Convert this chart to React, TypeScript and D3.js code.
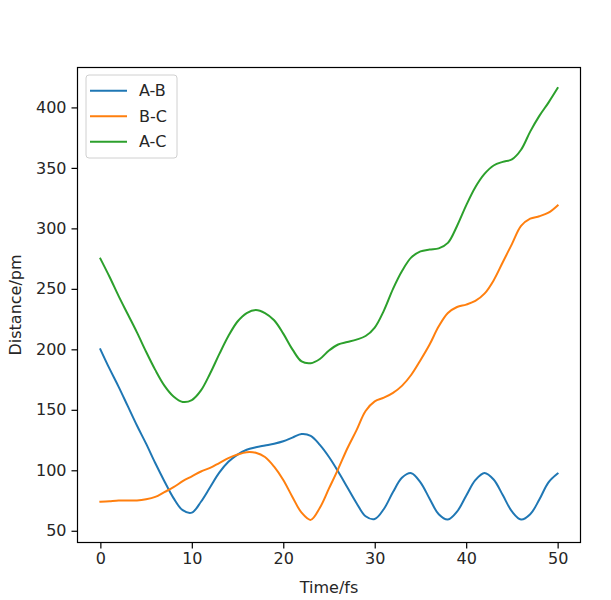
import React, { useEffect, useRef } from 'react';
import * as d3 from 'd3';

// time axis (fs), one sample per femtosecond
const times = d3.range(0, 51);

// A-B distance (pm)
const abValues = [
  200, 184, 169, 153, 137, 122, 106, 91, 77, 67,
  65, 74, 86, 98, 107, 113, 117, 119, 120.5, 122,
  124, 127, 130, 128.5, 121, 111, 99, 86, 73, 62,
  59.7, 68, 82, 94, 97.6, 90, 76.5, 63.6, 59.3, 65.8,
  79, 91.8, 97.8, 92.4, 79.5, 66, 59.3, 63.6, 75.8, 90,
  97.3
];

// B-C distance (pm)
const bcValues = [
  74, 74.5, 75, 75, 75, 76, 78, 82, 86, 91,
  95, 99, 102, 106, 110, 113, 115, 114.5, 111, 103,
  92, 78, 65, 59, 69, 85, 101, 118, 133, 149,
  157, 160, 164, 170, 179, 191, 204, 219, 230, 235,
  237, 240, 246, 257, 272, 287, 302, 308, 310, 313,
  319
];

// A-C distance (pm)
const acValues = [
  275, 260, 244, 229, 214, 198, 183, 170, 161, 156.5,
  158, 166, 180, 196, 211, 223, 230, 232.5, 230, 224,
  213, 200, 190, 188.5, 192, 199, 204, 206, 208, 211,
  218, 232, 250, 265, 276, 281, 282.5, 283.5, 288, 302,
  319, 334, 345, 352, 355, 357, 365, 380, 393, 404,
  416
];

const seriesNames = ['A-B', 'B-C', 'A-C'];
const seriesColors = ['#1f77b4', '#ff7f0e', '#2ca02c'];
const xTicks = [0, 10, 20, 30, 40, 50];
const yTicks = [50, 100, 150, 200, 250, 300, 350, 400];

const App: React.FC = () => {
  const svgRef = useRef<SVGSVGElement>(null);

  useEffect(() => {
    const width = 611;
    const height = 600;
    const margin = { top: 67.5, right: 30.5, bottom: 57.5, left: 77.5 };

    const svg = d3.select(svgRef.current);
    svg.selectAll('*').remove();
    svg.attr('width', width).attr('height', height);

    const font = '"DejaVu Sans", sans-serif';
    const textColor = '#262626';

    const x = d3.scaleLinear()
      .domain([-2.5, 52.5])
      .range([margin.left, width - margin.right]);

    const y = d3.scaleLinear()
      .domain([40.3, 433])
      .range([height - margin.bottom, margin.top]);

    const allSeries = [abValues, bcValues, acValues];

    const line = d3.line<number>()
      .x((_, i) => x(times[i]))
      .y(d => y(d))
      .curve(d3.curveCatmullRom.alpha(0.5));

    // Lines
    const plot = svg.append('g');
    allSeries.forEach((vals, i) => {
      plot.append('path')
        .attr('d', line(vals))
        .attr('fill', 'none')
        .attr('stroke', seriesColors[i])
        .attr('stroke-width', 2)
        .attr('stroke-linejoin', 'round')
        .attr('stroke-linecap', 'square');
    });

    // Axes
    const xAxis = svg.append('g')
      .attr('transform', `translate(0,${height - margin.bottom})`)
      .call(d3.axisBottom(x).tickValues(xTicks).tickSize(6).tickPadding(4).tickFormat(d3.format('d')));
    const yAxis = svg.append('g')
      .attr('transform', `translate(${margin.left},0)`)
      .call(d3.axisLeft(y).tickValues(yTicks).tickSize(6).tickPadding(5).tickFormat(d3.format('d')));

    [xAxis, yAxis].forEach(ax => {
      ax.select('.domain').remove();
      ax.selectAll('line').attr('stroke', '#000').attr('stroke-width', 1.2);
      ax.selectAll('text')
        .attr('fill', textColor)
        .style('font-family', font)
        .style('font-size', '16px');
    });

    // Frame
    svg.append('rect')
      .attr('x', margin.left)
      .attr('y', margin.top)
      .attr('width', width - margin.left - margin.right)
      .attr('height', height - margin.top - margin.bottom)
      .attr('fill', 'none')
      .attr('stroke', '#000')
      .attr('stroke-width', 1.2);

    // Axis labels
    svg.append('text')
      .attr('x', (margin.left + width - margin.right) / 2)
      .attr('y', 593)
      .attr('text-anchor', 'middle')
      .attr('fill', textColor)
      .style('font-family', font)
      .style('font-size', '16px')
      .text('Time/fs');

    svg.append('text')
      .attr('transform', `translate(21,${(margin.top + height - margin.bottom) / 2}) rotate(-90)`)
      .attr('text-anchor', 'middle')
      .attr('fill', textColor)
      .style('font-family', font)
      .style('font-size', '16px')
      .text('Distance/pm');

    // Legend
    const legend = svg.append('g').attr('transform', 'translate(86,75)');
    legend.append('rect')
      .attr('width', 91)
      .attr('height', 83)
      .attr('rx', 3)
      .attr('fill', 'rgba(255,255,255,0.8)')
      .attr('stroke', '#d0d0d0')
      .attr('stroke-width', 1);

    seriesNames.forEach((name, i) => {
      const row = legend.append('g').attr('transform', `translate(0,${15.7 + i * 25.5})`);
      row.append('line')
        .attr('x1', 4)
        .attr('x2', 41)
        .attr('stroke', seriesColors[i])
        .attr('stroke-width', 2);
      row.append('text')
        .attr('x', 53)
        .attr('dy', '0.35em')
        .attr('fill', textColor)
        .style('font-family', font)
        .style('font-size', '16px')
        .text(name);
    });
  }, []);

  return (
    <svg ref={svgRef} style={{ position: 'absolute', left: 0, top: 0, background: '#fff' }} />
  );
};

export default App;
